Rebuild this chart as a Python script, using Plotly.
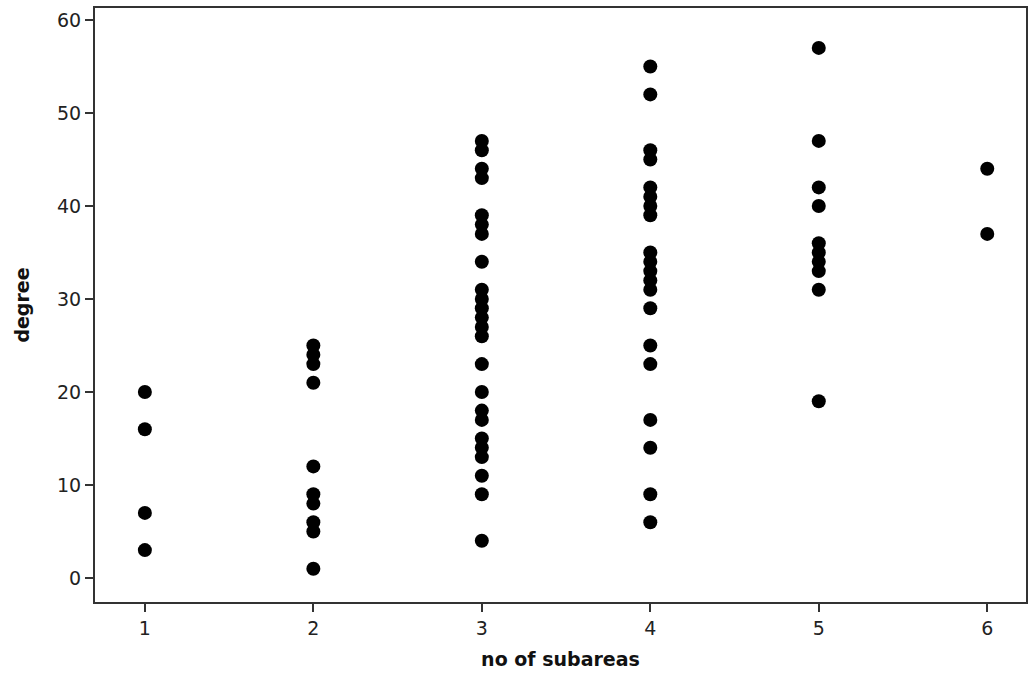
import plotly.graph_objects as go

# number of subareas per group and the degree values observed in each
subareas = [1, 2, 3, 4, 5, 6]
degree_by_subareas = {
    1: [20, 16, 7, 3],
    2: [25, 24, 23, 21, 12, 9, 8, 6, 5, 1],
    3: [47, 46, 44, 43, 39, 38, 37, 34, 31, 30, 29, 28, 27, 26,
        23, 20, 18, 17, 15, 14, 13, 11, 9, 4],
    4: [55, 52, 46, 45, 42, 41, 40, 39, 35, 34, 33, 32, 31, 29,
        25, 23, 17, 14, 9, 6],
    5: [57, 47, 42, 40, 36, 35, 34, 33, 31, 19],
    6: [44, 37],
}
y_ticks = [0, 10, 20, 30, 40, 50, 60]

xs, ys = [], []
for n in subareas:
    for d in degree_by_subareas[n]:
        xs.append(n)
        ys.append(d)

font_family = "DejaVu Sans"

fig = go.Figure(
    go.Scatter(
        x=xs, y=ys, mode="markers",
        marker=dict(color="black", size=14, line=dict(width=0)),
        showlegend=False,
    )
)

axis_common = dict(
    showgrid=False, zeroline=False,
    showline=True, linecolor="#333333", linewidth=2, mirror=True,
    ticks="outside", tickcolor="#333333", tickwidth=2, ticklen=8,
    tickfont=dict(family=font_family, size=19, color="#222222"),
)

fig.update_layout(
    width=1030, height=673,
    margin=dict(l=95, r=2, t=8, b=71),
    paper_bgcolor="white", plot_bgcolor="white",
    xaxis=dict(
        range=[0.704, 6.23], tickvals=subareas,
        title=dict(text="<b>no of subareas</b>", standoff=15,
                   font=dict(family=font_family, size=19, color="#111111")),
        **axis_common,
    ),
    yaxis=dict(
        range=[-2.58, 61.29], tickvals=y_ticks,
        title=dict(text="<b>degree</b>", standoff=22,
                   font=dict(family=font_family, size=19, color="#111111")),
        **axis_common,
    ),
)

fig.write_html("out.html")
